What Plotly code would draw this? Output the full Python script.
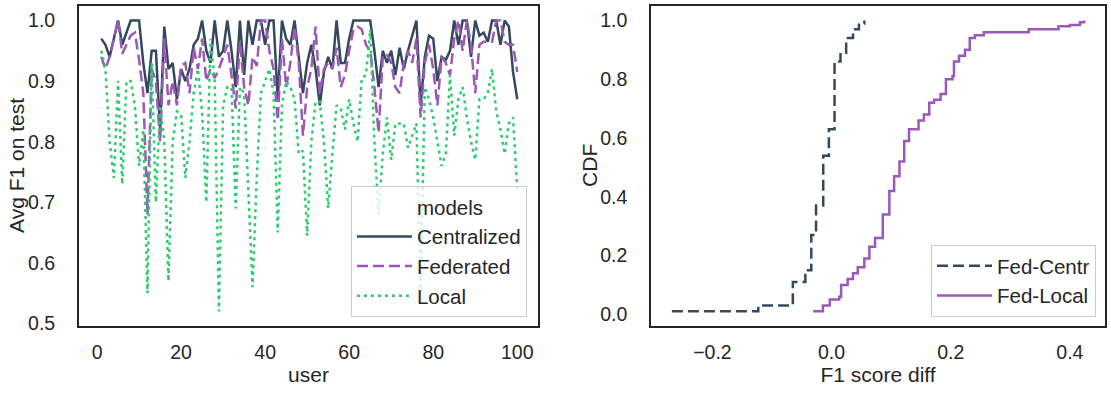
import plotly.graph_objects as go

users = list(range(1, 101))

centralized = [
    0.97, 0.96, 0.94, 0.97, 1.0, 0.96, 0.98, 1.0, 1.0, 1.0,
    0.93, 0.88, 0.95, 0.95, 0.82, 0.99, 0.92, 0.93, 0.87, 0.92,
    0.90, 0.92, 0.96, 0.97, 1.0, 0.95, 0.93, 1.0, 0.94, 0.95,
    1.0, 0.95, 0.89, 1.0, 0.91, 1.0, 0.96, 1.0, 1.0, 0.96,
    1.0, 1.0, 0.87, 1.0, 0.97, 0.96, 1.0, 0.94, 0.88, 0.93,
    0.96, 0.92, 0.86, 0.915, 0.94, 0.92, 1.0, 0.93, 0.93, 0.97,
    1.0, 1.0, 1.0, 1.0, 1.0, 0.95, 0.89, 0.95, 0.93, 0.95,
    0.91, 0.955, 0.92, 0.95, 0.975, 1.0, 0.86, 0.94, 0.975, 0.97,
    0.90, 0.94, 0.935, 0.95, 1.0, 0.96, 1.0, 1.0, 0.94, 1.0,
    0.975, 0.98, 0.965, 1.0, 1.0, 0.96, 1.0, 0.99, 0.915, 0.87,
]

federated = [
    0.94, 0.92, 0.94, 0.97, 1.0, 0.945, 0.96, 0.975, 0.98, 0.935,
    0.88, 0.68, 0.92, 0.90, 0.80, 0.97, 0.86, 0.90, 0.86, 0.925,
    0.93, 0.88, 0.955, 0.92, 0.97, 0.90, 0.92, 0.905, 0.92, 0.94,
    0.96, 0.91, 0.855, 0.965, 0.89, 0.86, 0.94, 0.925, 1.0, 1.0,
    0.95, 0.92, 0.835, 0.97, 0.89, 0.93, 0.99, 0.93, 0.81, 0.89,
    0.92, 0.99, 0.88, 0.92, 0.93, 0.92, 0.955, 0.89, 0.91, 0.95,
    0.985, 0.99, 0.985, 0.96, 0.95, 0.89, 0.815, 0.94, 0.945, 0.93,
    0.89, 0.88, 0.93, 0.95, 0.93, 0.97, 0.84, 0.93, 0.96, 0.92,
    0.86, 0.94, 0.93, 0.91, 0.97, 1.0, 0.95, 1.0, 0.96, 0.88,
    0.96, 0.965, 0.965, 0.965, 1.0, 1.0, 0.965, 0.96, 0.96, 0.915,
]

local = [
    0.95, 0.92, 0.80, 0.74, 0.90, 0.73, 0.90, 0.90, 0.86, 0.76,
    0.82, 0.55, 0.93, 0.70, 0.86, 0.80, 0.57, 0.80, 0.85, 0.845,
    0.74, 0.80, 0.88, 0.92, 0.85, 0.70, 0.97, 0.90, 0.52, 0.86,
    0.89, 0.89, 0.69, 0.89, 0.88, 0.72, 0.56, 0.74, 0.88, 0.90,
    0.92, 0.88, 0.65, 0.86, 0.90, 0.89, 0.87, 0.78, 0.785, 0.645,
    0.80, 0.866, 0.866, 0.80, 0.69, 0.78, 0.86, 0.855, 0.82, 0.87,
    0.83, 0.80, 0.905, 0.91, 0.985, 0.80, 0.68, 0.78, 0.84, 0.77,
    0.83, 0.83, 0.83, 0.79, 0.81, 0.83, 0.55, 0.89, 0.87, 0.84,
    0.80, 0.76, 0.78, 0.91, 0.81, 0.87, 0.89, 0.84, 0.80, 0.77,
    0.87, 0.87, 0.88, 0.92, 0.85, 0.82, 0.78, 0.83, 0.84, 0.72,
]

# CDF step corners
fed_centr_diff = [-0.268, -0.123, -0.065, -0.044, -0.034, -0.026, -0.014,
                  -0.0045, 0.005, 0.015, 0.0245, 0.036, 0.046, 0.055]
fed_centr_cdf = [0.01, 0.03, 0.11, 0.15, 0.27, 0.37, 0.54,
                 0.63, 0.86, 0.89, 0.94, 0.97, 0.99, 1.0]

fed_local_diff = [-0.031, -0.0145, -0.003, 0.013, 0.016, 0.027, 0.036, 0.044,
                  0.055, 0.0635, 0.073, 0.086, 0.097, 0.105, 0.114, 0.122,
                  0.130, 0.146, 0.155, 0.164, 0.172, 0.183, 0.192, 0.203,
                  0.2055, 0.214, 0.224, 0.232, 0.2406, 0.2556, 0.331, 0.381,
                  0.40, 0.417, 0.424]
fed_local_cdf = [0.01, 0.03, 0.05, 0.06, 0.10, 0.12, 0.14, 0.16,
                 0.19, 0.23, 0.26, 0.34, 0.42, 0.47, 0.52, 0.59,
                 0.63, 0.66, 0.68, 0.72, 0.73, 0.75, 0.80, 0.81,
                 0.86, 0.88, 0.90, 0.94, 0.95, 0.96, 0.97, 0.98,
                 0.985, 0.994, 1.0]

DARK = "#34495e"
PURPLE = "#9b59b6"
GREEN = "#2ecc71"
TXT = "#262626"
FONT = "Liberation Sans, Arial, sans-serif"

fig = go.Figure()

fig.add_trace(go.Scatter(x=[None], y=[None], mode="lines", name="models",
                         line=dict(color="rgba(0,0,0,0)", width=2.5),
                         xaxis="x", yaxis="y", legend="legend"))
fig.add_trace(go.Scatter(x=users, y=centralized, mode="lines", name="Centralized",
                         line=dict(color=DARK, width=2.5),
                         xaxis="x", yaxis="y", legend="legend"))
fig.add_trace(go.Scatter(x=users, y=federated, mode="lines", name="Federated",
                         line=dict(color=PURPLE, width=2.5, dash="11px,5px"),
                         xaxis="x", yaxis="y", legend="legend"))
fig.add_trace(go.Scatter(x=users, y=local, mode="lines", name="Local",
                         line=dict(color=GREEN, width=2.5, dash="3px,4px"),
                         xaxis="x", yaxis="y", legend="legend"))

fig.add_trace(go.Scatter(x=fed_centr_diff, y=fed_centr_cdf, mode="lines", name="Fed-Centr",
                         line=dict(color=DARK, width=2.5, dash="11px,5px", shape="hv"),
                         xaxis="x2", yaxis="y2", legend="legend2"))
fig.add_trace(go.Scatter(x=fed_local_diff, y=fed_local_cdf, mode="lines", name="Fed-Local",
                         line=dict(color=PURPLE, width=2.5, shape="hv"),
                         xaxis="x2", yaxis="y2", legend="legend2"))

axis_common = dict(showgrid=False, zeroline=False, showline=True, mirror=True,
                   linecolor=TXT, linewidth=1.8, ticks="outside",
                   tickcolor="rgba(0,0,0,0)", automargin=False,
                   tickfont=dict(family=FONT, size=19.5, color=TXT),
                   title_font=dict(family=FONT, size=21, color=TXT))

title_font = dict(family=FONT, size=21, color=TXT)
y_mid = (0.177 + 0.985) / 2

fig.update_layout(
    width=1111, height=396,
    margin=dict(l=0, r=0, t=0, b=0),
    paper_bgcolor="white", plot_bgcolor="white",
    font=dict(family=FONT, color=TXT),
    xaxis=dict(axis_common, domain=[0.0711, 0.4843], range=[-4.3, 104.95],
               tickvals=[0, 20, 40, 60, 80, 100], ticklen=8,
               title=dict(text="user", standoff=5), anchor="y"),
    yaxis=dict(axis_common, domain=[0.177, 0.985], range=[0.496, 1.024],
               tickvals=[0.5, 0.6, 0.7, 0.8, 0.9, 1.0], tickformat=".1f", ticklen=18,
               anchor="x"),
    xaxis2=dict(axis_common, domain=[0.586, 0.9946], range=[-0.303, 0.459],
                tickvals=[-0.2, 0.0, 0.2, 0.4], tickformat=".1f", ticklen=8,
                title=dict(text="F1 score diff", standoff=5), anchor="y2"),
    yaxis2=dict(axis_common, domain=[0.177, 0.985], range=[-0.0395, 1.0495],
                tickvals=[0, 0.2, 0.4, 0.6, 0.8, 1.0], tickformat=".1f", ticklen=18,
                anchor="x2"),
    annotations=[
        dict(text="Avg F1 on test", x=17 / 1111, y=y_mid, xref="paper", yref="paper",
             textangle=-90, showarrow=False, xanchor="center", yanchor="middle",
             font=title_font),
        dict(text="CDF", x=590 / 1111, y=y_mid, xref="paper", yref="paper",
             textangle=-90, showarrow=False, xanchor="center", yanchor="middle",
             font=title_font),
    ],
    legend=dict(x=0.4743, y=0.1995, xanchor="right", yanchor="bottom",
                bgcolor="rgba(255,255,255,0.8)", bordercolor="#cccccc", borderwidth=1,
                itemwidth=55,
                font=dict(family=FONT, size=20.5, color=TXT), traceorder="normal"),
    legend2=dict(x=0.9865, y=0.1995, xanchor="right", yanchor="bottom",
                 bgcolor="rgba(255,255,255,0.8)", bordercolor="#cccccc", borderwidth=1,
                 itemwidth=55,
                 font=dict(family=FONT, size=20.5, color=TXT), traceorder="normal"),
    showlegend=True,
)

fig.write_html(
    "out.html",
    config={"displayModeBar": False},
    post_script="document.body.style.margin='0px';document.body.style.padding='0px';"
                "document.body.style.overflow='hidden';",
)
